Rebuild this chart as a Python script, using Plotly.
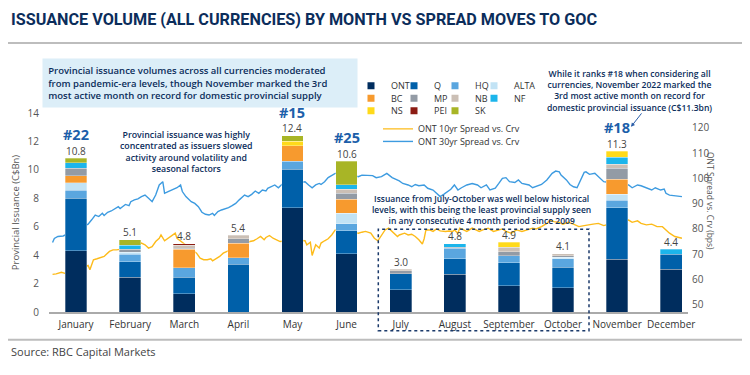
import plotly.graph_objects as go
import pandas as pd

# ---------------- data ----------------
months = ["January", "February", "March", "April", "May", "June",
          "July", "August", "September", "October", "November", "December"]

ONT  = [4.30, 2.45, 1.30, 0.00, 7.35, 4.10, 1.55, 2.65, 1.85, 1.70, 3.70, 3.00]
Q    = [3.70, 1.10, 1.15, 3.35, 2.70, 1.60, 1.15, 1.10, 1.60, 1.45, 3.65, 1.05]
HQ   = [0.55, 0.50, 0.65, 0.45, 0.55, 0.50, 0.00, 0.75, 0.50, 0.60, 0.50, 0.00]
ALTA = [0.55, 0.15, 0.00, 0.00, 0.00, 0.75, 0.00, 0.00, 0.00, 0.10, 0.45, 0.00]
BC   = [0.50, 0.00, 1.30, 1.05, 1.10, 1.00, 0.00, 0.00, 0.00, 0.00, 1.05, 0.00]
MP   = [0.50, 0.20, 0.10, 0.30, 0.00, 0.40, 0.20, 0.05, 0.30, 0.10, 0.75, 0.00]
NB   = [0.00, 0.00, 0.20, 0.25, 0.00, 0.30, 0.10, 0.00, 0.30, 0.15, 0.30, 0.00]
NF   = [0.40, 0.30, 0.00, 0.00, 0.00, 0.30, 0.00, 0.25, 0.00, 0.00, 0.50, 0.35]
NS   = [0.00, 0.00, 0.00, 0.00, 0.30, 0.00, 0.00, 0.00, 0.35, 0.00, 0.40, 0.00]
PEI  = [0.00, 0.00, 0.10, 0.00, 0.00, 0.00, 0.00, 0.00, 0.00, 0.00, 0.00, 0.00]
SK   = [0.30, 0.40, 0.00, 0.00, 0.40, 1.65, 0.00, 0.00, 0.00, 0.00, 0.00, 0.00]

ranks = {"January": "#22", "May": "#15", "June": "#25", "November": "#18"}

# ONT 30yr spread vs curve (bps), day of year 2022
days30 = [2, 3, 5, 8, 15, 22, 24, 26, 28, 30, 31, 33, 35, 37, 39, 40, 43, 45, 46, 48,
          50, 52, 54, 56, 58, 60, 61, 62, 64, 65, 67, 69, 71, 72, 74, 75, 77, 78, 80, 82,
          84, 86, 88, 90, 92, 93, 95, 97, 99, 101, 103, 105, 107, 108, 110, 112, 114, 116, 118, 120,
          122, 123, 125, 127, 129, 131, 137, 144, 146, 148, 150, 152, 153, 155, 157, 159, 161, 167, 174, 176,
          178, 182, 184, 187, 190, 193, 197, 199, 202, 204, 206, 208, 211, 213, 216, 218, 220, 222, 224, 226,
          228, 230, 232, 235, 238, 241, 243, 246, 248, 251, 253, 255, 257, 259, 262, 264, 266, 270, 272, 274,
          277, 280, 283, 285, 287, 288, 291, 293, 295, 297, 299, 301, 302, 304, 307, 309, 312, 318, 326, 328,
          331, 333, 336, 339, 341, 344, 346, 347, 349, 352, 356]
ont30 = [74.6, 76.2, 77.0, 77.2, 79.6, 81.9, 83.6, 85.5, 84.9, 86.2, 85.3, 86.6, 87.1, 87.9, 88.8, 88.1, 89.7, 89.2, 90.8, 91.5,
         91.9, 92.8, 93.4, 92.1, 90.8, 93.4, 95.4, 97.4, 98.7, 94.1, 94.8, 95.4, 96.1, 96.3, 97.4, 94.8, 92.8, 92.1, 90.8, 90.1,
         88.8, 86.6, 85.8, 85.5, 86.2, 85.3, 86.9, 87.5, 87.9, 88.4, 89.2, 90.1, 91.5, 92.1, 93.4, 92.8, 93.7, 95.0, 94.1, 95.4,
         95.0, 96.1, 96.7, 97.4, 96.3, 97.6, 98.0, 98.7, 97.4, 96.3, 97.4, 98.0, 97.6, 98.7, 100.3, 101.3, 102.0, 102.0, 100.7, 101.3,
         101.3, 101.1, 100.3, 100.7, 102.0, 100.3, 99.0, 98.0, 97.4, 96.7, 97.6, 97.1, 97.4, 96.1, 95.4, 94.1, 92.8, 93.7, 94.8, 95.7,
         97.4, 95.4, 96.3, 97.4, 98.0, 97.4, 96.3, 97.4, 95.4, 96.1, 98.0, 100.0, 100.3, 98.7, 98.4, 99.4, 98.0, 97.4, 96.3, 96.7,
         97.6, 99.4, 102.0, 102.9, 102.6, 101.3, 99.4, 97.6, 96.7, 96.3, 99.4, 102.4, 102.6, 101.6, 102.0, 100.7, 98.7, 98.0, 97.4, 96.3,
         97.4, 97.1, 96.1, 95.4, 96.3, 95.4, 95.8, 94.1, 93.4, 93.1, 92.8]

# ONT 10yr spread vs curve (bps), day of year 2022
days10 = [2, 4, 7, 9, 15, 22, 23, 25, 27, 29, 31, 32, 34, 36, 38, 45, 52, 54, 56, 58,
          60, 62, 63, 65, 67, 69, 71, 72, 78, 83, 85, 87, 89, 91, 92, 94, 96, 98, 100, 106,
          113, 115, 117, 119, 121, 122, 124, 126, 128, 130, 137, 144, 145, 147, 148, 150, 152, 153, 155, 157,
          159, 161, 167, 174, 176, 178, 181, 183, 185, 187, 189, 191, 193, 196, 197, 200, 202, 204, 206, 208,
          210, 211, 212, 214, 216, 218, 220, 223, 225, 227, 228, 230, 231, 233, 235, 238, 240, 242, 244, 247,
          250, 253, 255, 257, 260, 263, 266, 269, 272, 274, 277, 280, 282, 284, 287, 289, 292, 295, 298, 301,
          303, 306, 309, 312, 318, 326, 328, 331, 333, 336, 339, 342, 345, 347, 349, 352, 356]
ont10 = [62.0, 62.2, 62.8, 62.4, 63.5, 65.5, 63.8, 67.8, 68.2, 68.7, 69.1, 69.8, 71.1, 71.7, 71.7, 72.5, 74.4, 73.7, 72.4, 73.0,
         75.0, 76.3, 77.6, 75.3, 76.3, 77.6, 78.3, 76.3, 73.0, 70.4, 68.4, 67.8, 67.8, 68.2, 67.4, 68.2, 69.1, 70.4, 71.1, 73.0,
         75.0, 75.3, 76.1, 77.0, 75.7, 76.6, 77.4, 76.3, 75.7, 75.0, 75.5, 75.3, 73.7, 74.7, 69.5, 73.7, 72.4, 74.4, 75.3, 76.1,
         77.6, 79.6, 79.0, 78.3, 78.7, 79.0, 78.3, 76.3, 75.3, 77.6, 79.6, 80.3, 79.0, 77.0, 77.6, 78.3, 77.6, 77.9, 77.0, 75.7,
         74.0, 76.1, 79.6, 79.6, 79.0, 80.0, 79.2, 79.0, 79.2, 79.0, 79.6, 78.3, 80.3, 79.6, 79.0, 80.3, 79.6, 79.0, 79.6, 80.3,
         79.0, 79.6, 80.0, 79.0, 78.3, 79.6, 79.0, 79.6, 80.3, 80.0, 80.9, 82.2, 83.5, 82.9, 82.6, 81.9, 82.6, 81.9, 80.9, 81.3,
         81.6, 81.9, 82.2, 81.3, 82.5, 83.5, 82.6, 83.2, 82.2, 81.6, 81.9, 80.9, 80.9, 79.6, 78.3, 77.0, 76.3]

# ---------------- styling ----------------
NAVY = "#0B2D5B"
FONT = "Open Sans"
series = [("ONT", ONT, "#002D5E"), ("Q", Q, "#0060A9"), ("HQ", HQ, "#5AA6DF"), ("ALTA", ALTA, "#C2E3F5"),
          ("BC", BC, "#F79A2E"), ("MP", MP, "#939BA5"), ("NB", NB, "#CBBFB5"), ("NF", NF, "#1CB5EB"),
          ("NS", NS, "#FFDA1A"), ("PEI", PEI, "#8C1C13"), ("SK", SK, "#A8B526")]

# the page body adds an 8px margin; the figure is sized so it ends at the window edge
OFF = 8
FIG_W, FIG_H = 750 - OFF, 375 - OFF
# plot area in window pixels
L, R, T, B = 49, 688, 112.8, 312.3
def px2x(p):
    return (p - L) / (R - L)
def px2y(p):
    return (B - p) / (B - T)

start = pd.Timestamp("2022-01-01")
dates30 = start + pd.to_timedelta(days30, unit="D")
dates10 = start + pd.to_timedelta(days10, unit="D")

fig = go.Figure()

# legend layout: (column text start px, row centre px)
leg_cols = [391, 434, 475, 514]
leg_rows = [85.5, 98.0, 110.5]

leg_common = dict(orientation="h", bgcolor="rgba(0,0,0,0)", font=dict(family=FONT, size=9, color="#333333"),
                  xanchor="left", yanchor="middle", itemwidth=30, borderwidth=0)
legends = {}

# lines on the base axes (drawn beneath the bars)
fig.add_trace(go.Scatter(x=dates10, y=ont10, mode="lines", name="ONT 10yr Spread vs. Crv",
                         line=dict(color="#FDBB1A", width=1.4), xaxis="x", yaxis="y",
                         legend="legend12", hoverinfo="skip"))
fig.add_trace(go.Scatter(x=dates30, y=ont30, mode="lines", name="ONT 30yr Spread vs. Crv",
                         line=dict(color="#3D9BE0", width=1.4), xaxis="x", yaxis="y",
                         legend="legend13", hoverinfo="skip"))
legends["legend12"] = dict(x=px2x(418 - 40), y=px2y(128.7), **leg_common)
legends["legend13"] = dict(x=px2x(418 - 40), y=px2y(141.3), **leg_common)

for i, (name, vals, col) in enumerate(series):
    lg = "legend" if i == 0 else f"legend{i + 1}"
    fig.add_trace(go.Bar(x=months, y=[v if v else None for v in vals], name=name, legendgroup=name,
                         showlegend=False,
                         marker=dict(color=col, line=dict(color="rgba(255,255,255,0.6)", width=0.5)),
                         width=0.4, xaxis="x2", yaxis="y2", hoverinfo="skip"))
    # small square legend key for the series
    fig.add_trace(go.Scatter(x=[None], y=[None], mode="markers", name=name, legendgroup=name,
                             marker=dict(symbol="square", size=7, color=col),
                             xaxis="x2", yaxis="y2", legend=lg, hoverinfo="skip"))
    legends[lg] = dict(x=px2x(leg_cols[i % 4] - 40), y=px2y(leg_rows[i // 4]), **leg_common)

totals = [round(sum(s[1][i] for s in series), 1) for i in range(len(months))]

ann = []
for m, t in zip(months, totals):
    ann.append(dict(x=m, y=t, xref="x2", yref="y2", text=f"{t:.1f}", showarrow=False,
                    yshift=7.5, yanchor="middle", font=dict(family=FONT, size=10, color="#444444")))
    if m in ranks:
        ann.append(dict(x=m, y=t, xref="x2", yref="y2", text=ranks[m], showarrow=False,
                        yshift=23.5, yanchor="middle",
                        font=dict(family=FONT, size=14.5, color="#1C5FAA", weight="bold")))

def note(size):
    return dict(family=FONT, size=size, color=NAVY, weight=600)

ann += [
    dict(xref="paper", yref="paper", x=px2x(8.5), y=px2y(19.5), xanchor="left", yanchor="middle",
         text="ISSUANCE VOLUME (ALL CURRENCIES) BY MONTH VS SPREAD MOVES TO GOC", showarrow=False,
         font=dict(family="Roboto", size=16.2, color=NAVY, weight="bold")),
    dict(xref="paper", yref="paper", x=px2x(200.3), y=px2y(82.5), xanchor="center", yanchor="middle",
         text="Provincial issuance volumes across all currencies moderated<br>"
              "from pandemic-era levels, though November marked the 3rd<br>"
              "most active month on record for domestic provincial supply",
         align="left", valign="middle", showarrow=False, bgcolor="#DCEEF8", width=304, height=38, borderpad=5.2,
         font=note(9.5)),
    dict(xref="paper", yref="paper", x=px2x(186), y=px2y(152), xanchor="center", yanchor="middle",
         text="Provincial issuance was highly<br>concentrated as issuers slowed<br>"
              "activity around volatility and<br>seasonal factors",
         align="center", showarrow=False, font=note(8.8)),
    dict(xref="paper", yref="paper", x=px2x(629), y=px2y(91), xanchor="center", yanchor="middle",
         text="While it ranks #18 when considering all<br>currencies, November 2022 marked the<br>"
              "3rd most active month on record for<br>domestic provincial issuance (C$11.3bn)",
         align="center", showarrow=False, font=note(8.6)),
    dict(xref="paper", yref="paper", x=px2x(481.5), y=px2y(210), xanchor="center", yanchor="middle",
         text="Issuance from July-October was well below historical<br>"
              "levels, with this being the least provincial supply seen<br>"
              "in any consecutive 4 month period since 2009",
         align="center", showarrow=False, font=note(8.5)),
    dict(xref="paper", yref="paper", x=px2x(631), y=px2y(126.7), ax=11.7, ay=-15, text="",
         showarrow=True, arrowhead=2, arrowsize=0.8, arrowwidth=1, arrowcolor="#2B5EA8"),
    dict(xref="paper", yref="paper", x=px2x(710), y=px2y(201), xanchor="center", yanchor="middle",
         text="ONT Spread vs. Crv (bps)", textangle=90, showarrow=False,
         font=dict(family=FONT, size=8.5, color="#555555")),
    dict(xref="paper", yref="paper", x=px2x(8.5), y=px2y(352), xanchor="left", yanchor="middle",
         text="Source: RBC Capital Markets", showarrow=False,
         font=dict(family=FONT, size=11, color="#444444")),
]

shapes = [
    dict(type="line", xref="paper", yref="paper", x0=px2x(OFF), x1=px2x(750), y0=px2y(42.5), y1=px2y(42.5),
         line=dict(color="#BDBDBD", width=2)),
    dict(type="line", xref="paper", yref="paper", x0=px2x(OFF), x1=px2x(750), y0=px2y(340), y1=px2y(340),
         line=dict(color="#BDBDBD", width=2)),
    dict(type="rect", xref="paper", yref="paper", x0=px2x(378.3), x1=px2x(589), y0=px2y(331), y1=px2y(229.3),
         line=dict(color="#1B3A6B", width=1.5, dash="dot")),
]

fig.update_layout(
    width=FIG_W, height=FIG_H,
    margin=dict(l=L - OFF, r=750 - R, t=T - OFF, b=375 - B, pad=0, autoexpand=False),
    paper_bgcolor="white", plot_bgcolor="rgba(0,0,0,0)",
    font=dict(family=FONT, size=10, color="#555555"),
    barmode="stack", showlegend=True,
    xaxis=dict(type="date", range=[start, start + pd.Timedelta(days=359.4)], visible=False,
               showgrid=False, zeroline=False),
    yaxis=dict(side="right", range=[47.1, 125.9], tickvals=[50, 60, 70, 80, 90, 100, 110, 120],
               showgrid=False, zeroline=False, showline=False, ticks="",
               tickfont=dict(family=FONT, size=10, color="#555555"), ticklabelstandoff=3),
    xaxis2=dict(type="category", overlaying="x", anchor="y2", range=[-0.5, 11.31], showgrid=False,
                zeroline=False, showline=True, linecolor="#AAAAAA", linewidth=1.5, ticks="",
                tickfont=dict(family=FONT, size=10, color="#333333"), ticklabelstandoff=2),
    yaxis2=dict(overlaying="y", anchor="x2", side="left", range=[0, 14], dtick=2, showgrid=False,
                zeroline=False, showline=False, ticks="", tickfont=dict(family=FONT, size=10, color="#555555"),
                ticklabelstandoff=9,
                title=dict(text="Provincial Issuance (C$Bn)", font=dict(family=FONT, size=9.5, color="#555555"),
                           standoff=6)),
    annotations=ann, shapes=shapes,
    **legends,
)

fig.write_html("out.html")
